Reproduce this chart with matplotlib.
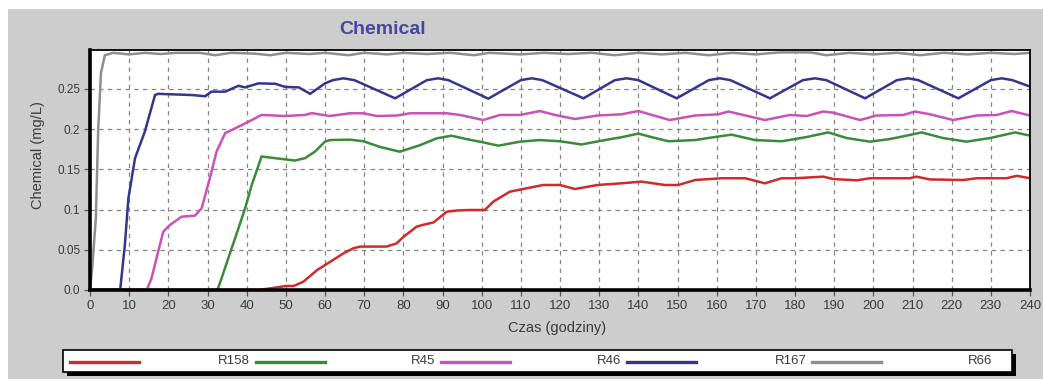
import matplotlib
matplotlib.use("Agg")
import matplotlib.pyplot as plt
from matplotlib.patches import Rectangle
from matplotlib.lines import Line2D

plt.rcParams['font.family'] = ['Liberation Sans', 'DejaVu Sans']

# ---------------- data ----------------
series_names = ["R158", "R45", "R46", "R167", "R66"]
series_colors = ["#d02a2a", "#3a8a3a", "#c852b8", "#35358c", "#8e8e8e"]

t_r158 = [0, 43, 46, 50, 52, 54.5, 58, 61.3, 64.7, 67.2, 69, 72, 75.7, 78.3, 80, 83.4, 85,
          87.7, 91.1, 94, 97, 100.8, 103, 107.2, 112.3, 115.7, 120, 123.8, 129.6, 135.7,
          140.8, 146.8, 150.2, 154.5, 161.3, 167.3, 172.3, 176.6, 180, 187.2, 189.8, 195.8,
          199.1, 209.3, 211, 214.5, 223, 226.4, 234, 236.6, 240]
v_r158 = [0, 0, 0.002, 0.005, 0.005, 0.0104, 0.0249, 0.035, 0.0456, 0.0518, 0.054, 0.054,
          0.054, 0.058, 0.066, 0.0788, 0.081, 0.084, 0.0974, 0.099, 0.0995, 0.0995, 0.11,
          0.1223, 0.1273, 0.1306, 0.1306, 0.1256, 0.1306, 0.1327, 0.1348, 0.1306, 0.1306,
          0.1368, 0.139, 0.139, 0.1327, 0.139, 0.139, 0.141, 0.138, 0.1364, 0.139, 0.139,
          0.141, 0.1375, 0.1368, 0.139, 0.139, 0.142, 0.139]

t_r45 = [0, 32.5, 33.2, 35.3, 37.9, 39.6, 41.3, 43.8, 47.2, 49.8, 52.3, 54.9, 57.4, 60, 61.3,
         66.4, 69.8, 74, 79.1, 84.2, 88.5, 92.3, 96.1, 100.4, 104.3, 109.8, 114.9, 120, 125.5,
         131.5, 135.7, 140, 144.3, 147.7, 154.5, 159.6, 163.8, 169.8, 176.6, 180, 183, 188.5,
         193.2, 199.1, 204.2, 208.5, 212.3, 217.8, 223.8, 229.8, 236.2, 240]
v_r45 = [0, 0, 0.009, 0.0394, 0.0767, 0.1016, 0.1306, 0.166, 0.164, 0.1625, 0.161, 0.164,
         0.172, 0.1845, 0.1865, 0.187, 0.185, 0.178, 0.172, 0.180, 0.1886, 0.1919, 0.1877,
         0.1836, 0.1795, 0.1845, 0.1865, 0.185, 0.181, 0.1865, 0.19, 0.1945, 0.189, 0.185,
         0.1865, 0.1903, 0.1932, 0.1865, 0.185, 0.1877, 0.1903, 0.196, 0.189, 0.1845, 0.1877,
         0.192, 0.196, 0.189, 0.1845, 0.189, 0.196, 0.192]

t_r46 = [0, 14.5, 15.7, 17.4, 18.7, 20.4, 23.4, 26.8, 28.5, 30.6, 32.3, 34.5, 38.7, 41.3,
         43.8, 49.8, 54.9, 56.6, 61.2, 66.4, 69.8, 73.2, 78.3, 81.7, 86.8, 91.1, 94.5, 100.4,
         104.7, 109.8, 114.9, 118.7, 123.8, 129.6, 135.7, 140, 148, 154.5, 160.4, 163, 172.3,
         178.7, 183, 187.2, 189.8, 196.6, 200.8, 207.7, 210.6, 214.5, 220.4, 226.4, 231.5,
         235.3, 240]
v_r46 = [0, 0, 0.0145, 0.0477, 0.0725, 0.0808, 0.0912, 0.0925, 0.1016, 0.139, 0.172, 0.195,
         0.205, 0.2114, 0.2177, 0.2164, 0.2177, 0.220, 0.2164, 0.2198, 0.2198, 0.2164, 0.217,
         0.2198, 0.2198, 0.2198, 0.2177, 0.2114, 0.2177, 0.2177, 0.2226, 0.2177, 0.2127,
         0.2170, 0.2185, 0.2226, 0.2114, 0.217, 0.2185, 0.222, 0.2114, 0.2177, 0.2164, 0.222,
         0.2205, 0.2114, 0.217, 0.2177, 0.222, 0.2185, 0.2114, 0.217, 0.2177, 0.2226, 0.217]

t_r167 = [0, 7.7, 8.9, 9.8, 11.5, 14.0, 16.6, 17.4, 26, 29.4, 31, 34.5, 37.9, 39.6, 43, 47.3,
          49.9, 53.3, 56.2, 60, 62, 64.7, 67.5, 77.9, 86, 88.9, 91.5, 101.7, 110, 112.8, 115.5,
          126, 134, 137, 140, 149.8, 158, 160.8, 163.5, 173.6, 182, 185.1, 188, 197.9, 206,
          208.9, 211.5, 221.7, 230, 232.8, 235.5, 240]
v_r167 = [0, 0, 0.056, 0.114, 0.164, 0.197, 0.2425, 0.244, 0.2425, 0.241, 0.2467, 0.2467,
          0.254, 0.252, 0.257, 0.2565, 0.2525, 0.252, 0.244, 0.257, 0.261, 0.2633, 0.261,
          0.2384, 0.261, 0.2633, 0.261, 0.238, 0.261, 0.2633, 0.261, 0.2384, 0.261, 0.2633,
          0.261, 0.2384, 0.261, 0.2633, 0.261, 0.2384, 0.261, 0.2633, 0.261, 0.2384, 0.261,
          0.2633, 0.261, 0.2384, 0.261, 0.2633, 0.261, 0.253]

t_r66 = [0, 0.6, 1.5, 2.1, 2.8, 3.8, 6, 10, 14, 18, 22, 28, 32, 36, 42, 46, 50, 56, 60, 66,
         70, 76, 80, 86, 92, 98, 102, 110, 116, 122, 128, 134, 140, 146, 152, 158, 164, 170,
         176, 184, 188, 194, 200, 206, 212, 218, 224, 230, 236, 240]
v_r66 = [0, 0.03, 0.09, 0.2, 0.27, 0.292, 0.295, 0.293, 0.295, 0.2935, 0.295, 0.295, 0.292,
         0.295, 0.294, 0.292, 0.295, 0.2935, 0.295, 0.292, 0.295, 0.293, 0.295, 0.2935, 0.295,
         0.292, 0.295, 0.293, 0.295, 0.2935, 0.295, 0.292, 0.295, 0.293, 0.295, 0.292, 0.295,
         0.293, 0.2955, 0.2955, 0.292, 0.295, 0.293, 0.295, 0.292, 0.295, 0.293, 0.295,
         0.2935, 0.295]

x_ticks = list(range(0, 241, 10))
y_ticks = [0.0, 0.05, 0.1, 0.15, 0.2, 0.25]
y_tick_labels = ["0.0", "0.05", "0.1", "0.15", "0.2", "0.25"]

title_text = "Chemical"
x_label = "Czas (godziny)"
y_label = "Chemical (mg/L)"

# ---------------- figure ----------------
W, H = 1043, 379
fig = plt.figure(figsize=(W / 100, H / 100), dpi=100, facecolor="white")

def fx(px):
    return px / W

def fy(py):
    return 1 - py / H

# gray panel (white strip at top and left)
fig.add_artist(Rectangle((fx(8), 0), 1 - fx(8), fy(9), transform=fig.transFigure,
                         facecolor="#cdcdcd", edgecolor="none", zorder=0))

ax = fig.add_axes([fx(90), fy(290), fx(1030) - fx(90), fy(50) - fy(290)])
ax.set_facecolor("white")

ts = [t_r158, t_r45, t_r46, t_r167, t_r66]
vs = [v_r158, v_r45, v_r46, v_r167, v_r66]
for t, v, c in zip(ts, vs, series_colors):
    ax.plot(t, v, color=c, lw=1.8, solid_joinstyle="miter", zorder=2)

ax.set_xlim(0, 240)
ax.set_ylim(0, 0.2985)
ax.set_xticks(x_ticks)
ax.set_xticklabels([str(x) for x in x_ticks])
ax.set_yticks(y_ticks)
ax.set_yticklabels(y_tick_labels)
ax.grid(True, color="#858585", linestyle=(0, (3.5, 3.5)), lw=0.9, zorder=1)
ax.set_axisbelow(True)

ax.tick_params(axis="both", direction="out", length=4, width=0.9, color="#555555")
ax.tick_params(axis="x", labelsize=9.5, pad=3, labelcolor="#3a3a3a")
ax.tick_params(axis="y", labelsize=8.5, pad=3, labelcolor="#3a3a3a")

for side in ["left", "bottom"]:
    ax.spines[side].set_linewidth(2.6)
    ax.spines[side].set_color("black")
    ax.spines[side].set_zorder(3)
for side in ["top", "right"]:
    ax.spines[side].set_linewidth(1.3)
    ax.spines[side].set_color("black")
    ax.spines[side].set_zorder(3)

# title and axis labels
fig.text(fx(383), fy(30), title_text, ha="center", va="center", fontsize=14,
         fontweight="bold", color="#4646a0")
fig.text(fx(557), fy(328), x_label, ha="center", va="center", fontsize=10.5, color="#3a3a3a")
fig.text(fx(38), fy(155), y_label, ha="center", va="center", rotation=90, fontsize=10.5,
         color="#3a3a3a")

# legend box with shadow
bx0, bx1, by0, by1 = 63, 1012, 350, 372
fig.add_artist(Rectangle((fx(bx0 + 4), fy(by1 + 4)), fx(bx1) - fx(bx0), fy(by0) - fy(by1),
                         transform=fig.transFigure, facecolor="black", edgecolor="none", zorder=1))
fig.add_artist(Rectangle((fx(bx0), fy(by1)), fx(bx1) - fx(bx0), fy(by0) - fy(by1),
                         transform=fig.transFigure, facecolor="white", edgecolor="black",
                         lw=1.2, zorder=2))
ly = 361.5
for i, (name, c) in enumerate(zip(series_names, series_colors)):
    x0 = 70 + i * 185.5
    fig.add_artist(Line2D([fx(x0), fx(x0 + 69)], [fy(ly), fy(ly)], transform=fig.transFigure,
                          color=c, lw=2.4, zorder=3))
    fig.text(fx(x0 + 180), fy(ly), name, ha="right", va="center", fontsize=9.5,
             color="#3a3a3a", zorder=3)

fig.savefig("out.png", dpi=100, facecolor=fig.get_facecolor())
